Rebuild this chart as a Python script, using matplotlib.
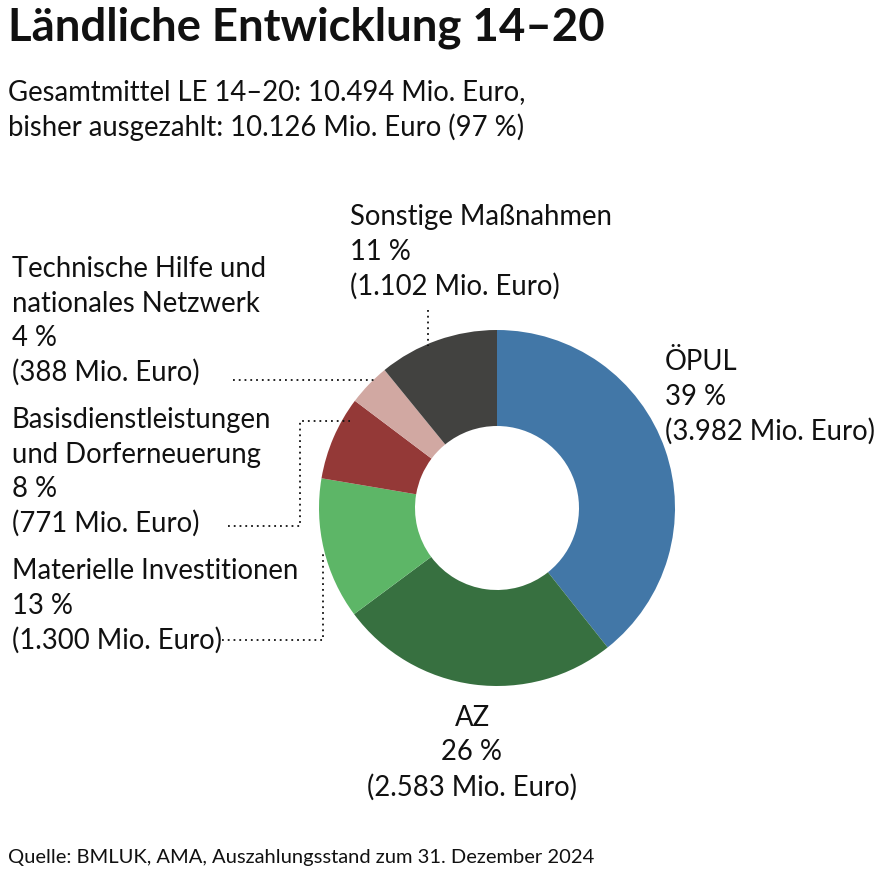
import matplotlib.pyplot as plt

# -----------------------------
# Data
# -----------------------------
names = ["ÖPUL", "AZ", "Materielle Investitionen",
         "Basisdienstleistungen\nund Dorferneuerung",
         "Technische Hilfe und\nnationales Netzwerk", "Sonstige Maßnahmen"]
values = [3982, 2583, 1300, 771, 388, 1102]          # Mio. Euro
percents = [39, 26, 13, 8, 4, 11]
colors = ["#4277a7", "#377040", "#5db667", "#943937", "#d1a8a2", "#424240"]

W, H = 879, 871
FONT = "Lato"

fig = plt.figure(figsize=(W / 100, H / 100), dpi=100)
ax = fig.add_axes([0, 0, 1, 1])


def Y(y):
    # pixel row (from top) -> axes coordinate
    return H - y


# -----------------------------
# Donut
# -----------------------------
cx, cy, r_out, r_in = 497, 508, 178, 82
ax.pie(values, colors=colors, startangle=90, counterclock=False,
       center=(cx, Y(cy)), radius=r_out, frame=True,
       wedgeprops=dict(width=r_out - r_in, linewidth=0))
ax.set_xlim(0, W)
ax.set_ylim(0, H)
ax.set_aspect("equal")
ax.axis("off")

# -----------------------------
# Labels
# -----------------------------
def label(lines, x, y0, ha="left", step=34.5):
    for i, s in enumerate(lines):
        ax.text(x, Y(y0 + i * step), s, ha=ha, va="center",
                fontsize=19.8, family=FONT, color="#111111")


def block(i):
    return names[i].split("\n") + [f"{percents[i]} %",
                                   f"({values[i]:,} Mio. Euro)".replace(",", ".")]


label(block(0), 665, 362)
label(block(1), 472, 718, ha="center")
label(block(2), 12, 571)
label(block(3), 12, 420)
label(block(4), 12, 269)
label(block(5), 350, 217)

# leader lines
dot = dict(color="#111111", lw=1.3, ls=(0, (1, 2.2)))
ax.plot([428, 428], [Y(310), Y(346)], **dot)
ax.plot([233, 375], [Y(380), Y(380)], **dot)
ax.plot([228, 300, 300, 350], [Y(526), Y(526), Y(421), Y(421)], **dot)
ax.plot([222, 323, 323], [Y(640), Y(640), Y(551)], **dot)

# -----------------------------
# Titles
# -----------------------------
ax.text(8, Y(28), "Ländliche Entwicklung 14–20", ha="left", va="center",
        fontsize=32.8, fontweight="bold", family=FONT, color="#111111")
ax.text(8, Y(92), "Gesamtmittel LE 14–20: 10.494 Mio. Euro,", ha="left",
        va="center", fontsize=19.8, family=FONT, color="#111111")
ax.text(8, Y(127), "bisher ausgezahlt: 10.126 Mio. Euro (97 %)", ha="left",
        va="center", fontsize=19.8, family=FONT, color="#111111")
ax.text(8, Y(857), "Quelle: BMLUK, AMA, Auszahlungsstand zum 31. Dezember 2024",
        ha="left", va="center", fontsize=14.5, family=FONT, color="#111111")

plt.savefig("out.png", dpi=100)
